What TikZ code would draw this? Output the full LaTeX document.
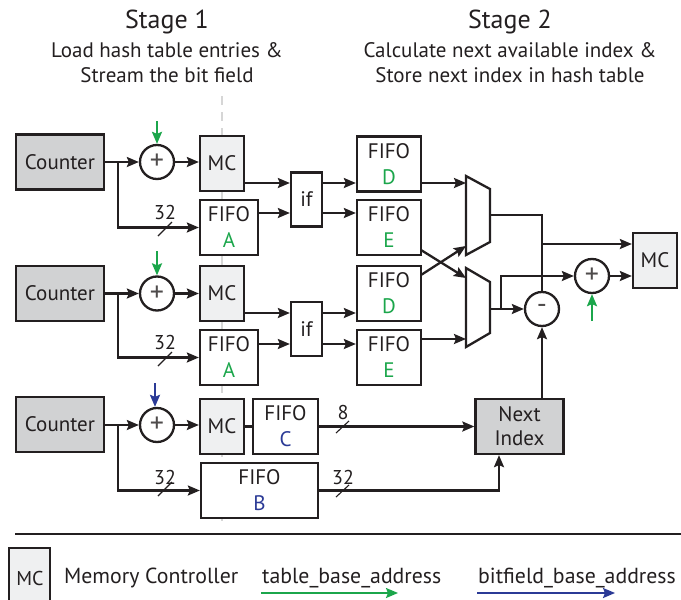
\documentclass[tikz,border=0pt]{standalone}
\usepackage{fontspec}
\setmainfont{PT Sans}
\usetikzlibrary{arrows.meta,calc}
\definecolor{ink}{HTML}{231F20}
\definecolor{tgreen}{HTML}{1BA64B}
\definecolor{tblue}{HTML}{2B3A96}
\definecolor{cntgray}{HTML}{D1D2D3}
\definecolor{mcgray}{HTML}{EFF0F1}
\definecolor{dashgray}{HTML}{D6D6D6}
\newcommand\nodefont{\fontsize{21}{26}\selectfont}
\begin{document}
\begin{tikzpicture}[x=1pt,y=-1pt,line width=2.3pt,color=ink,
  blk/.style={draw=ink,rectangle,inner sep=0pt,fill=white,font=\nodefont,align=center,text=ink},
  cnt/.style={blk,fill=cntgray,minimum width=88pt,minimum height=55pt},
  mcb/.style={blk,fill=mcgray,minimum width=44pt,minimum height=55pt},
  fifo/.style={blk,minimum width=#1,minimum height=55pt},
  ifb/.style={blk,minimum width=31pt,minimum height=54pt},
  op/.style={draw=ink,circle,fill=white,minimum size=34pt,inner sep=0pt,font=\fontsize{28}{28}\selectfont,text=ink!80},
  arr/.style={-{Stealth[length=12pt,width=10pt,inset=2pt]}},
  garr/.style={arr,draw=tgreen},
  barr/.style={arr,draw=tblue},
  slash/.style={line width=1.1pt},
  lbl/.style={font=\fontsize{20}{20}\selectfont,text=ink,inner sep=0pt},
  ttl/.style={font=\fontsize{26}{26}\selectfont,text=ink,inner sep=0pt},
  sub/.style={font=\fontsize{21}{21}\selectfont,text=ink,inner sep=0pt},
  leg/.style={font=\fontsize{21.8}{22}\selectfont,text=ink,inner sep=0pt,anchor=west}]
\useasboundingbox (0,0) rectangle (681,600);

% titles
\node[ttl] (st1) at (167,22) {Stage 1};
\node[sub] (st1a) at (167,50) {Load hash table entries \&};
\node[sub] (st1b) at (167,75) {Stream the bit field};
\node[ttl] (st2) at (510,22) {Stage 2};
\node[sub] (st2a) at (510,50) {Calculate next available index \&};
\node[sub] (st2b) at (510,75) {Store next index in hash table};

% stage divider
\draw[dashgray,line width=2pt,dash pattern=on 9pt off 7pt] (222,96) -- (222,528);

% ---- row 1
\node[cnt] (cnt1) at (60,162) {Counter};
\node[op] (plus1) at (157,162) {+};
\node[mcb] (mc1) at (222,163.5) {MC};
\node[fifo=58pt] (fA1) at (229,227.5) {FIFO\\\textcolor{tgreen}{A}};
\node[ifb] (if1) at (306.5,199.5) {if};
\node[fifo=64pt] (fD1) at (389,164) {FIFO\\\textcolor{tgreen}{D}};
\node[fifo=64pt] (fE1) at (389,227.5) {FIFO\\\textcolor{tgreen}{E}};

% ---- row 2
\node[cnt] (cnt2) at (60,293.5) {Counter};
\node[op] (plus2) at (157,293.5) {+};
\node[mcb] (mc2) at (222,293.5) {MC};
\node[fifo=58pt] (fA2) at (229,357.5) {FIFO\\\textcolor{tgreen}{A}};
\node[ifb] (if2) at (306.5,329) {if};
\node[fifo=64pt] (fD2) at (389,293.5) {FIFO\\\textcolor{tgreen}{D}};
\node[fifo=64pt] (fE2) at (389,357.5) {FIFO\\\textcolor{tgreen}{E}};

% ---- row 3
\node[cnt] (cnt3) at (60,424.5) {Counter};
\node[op] (plus3) at (157,425) {+};
\node[mcb] (mc3) at (222,426.5) {MC};
\node[fifo=65pt] (fC) at (285.5,426.5) {FIFO\\\textcolor{tblue}{C}};
\node[fifo=117pt] (fB) at (259.5,490.5) {FIFO\\\textcolor{tblue}{B}};
\node[cnt] (nxt) at (519.5,426.5) {Next\\[-2pt]Index};

% ---- right part
\node[op] (minus) at (542,309) {-};
\node[op] (plus4) at (592,276) {+};
\node[mcb] (mc4) at (655,260.5) {MC};

% mux shapes
\draw[fill=white,line join=miter] (466,176) -- (490,189) -- (490,242) -- (466,255) -- cycle;
\draw[fill=white,line join=miter] (466,268) -- (490,282) -- (490,333) -- (466,347) -- cycle;
\coordinate (m1i1) at (466,183);
\coordinate (m1i2) at (466,246);
\coordinate (m2i1) at (466,278);
\coordinate (m2i2) at (466,339);
\coordinate (m1o) at (490,215);
\coordinate (m2o) at (490,309);

% row coordinates
\coordinate (ya1) at (0,183);
\coordinate (yb1) at (0,213);
\coordinate (ya2) at (0,313);
\coordinate (yb2) at (0,344);
\coordinate (e1o) at (421,250);
\coordinate (d2o) at (421,275);

% ---- row 1 connectors
\coordinate (br1) at (118,162);
\draw[arr] (cnt1) -- (plus1);
\draw[arr] (br1) |- (fA1.west);
\draw[arr] (plus1) -- (mc1.west |- plus1);
\draw[arr] (mc1.east |- ya1) -- (if1.west |- ya1);
\draw[arr] (fA1.east |- yb1) -- (if1.west |- yb1);
\draw[arr] (if1.east |- ya1) -- (fD1.west |- ya1);
\draw[arr] (if1.east |- yb1) -- (fE1.west |- yb1);
\coordinate (g1) at (157,121);
\draw[garr] (g1) -- (plus1.north);
\draw[slash] (158,236) -- (172,222);
\node[lbl] (l1) at (165,212) {32};

% ---- row 2 connectors
\coordinate (br2) at (118,293.5);
\draw[arr] (cnt2) -- (plus2);
\draw[arr] (br2) |- (fA2.west);
\draw[arr] (plus2) -- (mc2);
\draw[arr] (mc2.east |- ya2) -- (if2.west |- ya2);
\draw[arr] (fA2.east |- yb2) -- (if2.west |- yb2);
\draw[arr] (if2.east |- ya2) -- (fD2.west |- ya2);
\draw[arr] (if2.east |- yb2) -- (fE2.west |- yb2);
\coordinate (g2) at (157,251);
\draw[garr] (g2) -- (plus2.north);
\draw[slash] (158,366) -- (172,352);
\node[lbl] (l2) at (165,342) {32};

% ---- row 3 connectors
\coordinate (br3) at (118,425);
\draw[arr] (cnt3.east |- plus3) -- (plus3);
\draw[arr] (br3) |- (fB.west);
\draw[arr] (plus3) -- (mc3.west |- plus3);
\draw (mc3) -- (fC);
\draw[arr] (fC) -- (nxt);
\coordinate (xb) at (499,0);
\draw[arr] (fB.east) -| (nxt.south -| xb);
\coordinate (b3) at (155,383);
\draw[barr] (b3) -- (plus3.north -| b3);
\draw[slash] (158,496) -- (172,482);
\node[lbl] (l3) at (165,477) {32};
\draw[slash] (336,433) -- (349,421);
\node[lbl] (l4) at (343,412) {8};
\draw[slash] (336,497) -- (349,485);
\node[lbl] (l5) at (343,477) {32};

% ---- stage 2 connectors
\draw[arr] (fD1.east |- m1i1) -- (m1i1);
\draw[arr] (e1o) -- (m2i1);
\draw[arr] (d2o) -- (m1i2);
\draw[arr] (fE2.east |- m2i2) -- (m2i2);
\coordinate (j1) at (542,244);
\coordinate (j2) at (501,309);
\draw (m1o) -| (minus.north);
\draw[arr] (j1) -- (mc4.west |- j1);
\draw[arr] (m2o) -- (minus.west);
\draw[arr] (j2) |- (plus4.west);
\draw[arr] (plus4) -- (mc4.west |- plus4);
\coordinate (g4) at (592,321);
\draw[garr] (g4) -- (plus4.south);
\draw[arr] (nxt.north -| minus) -- (minus.south);

% ---- legend
\coordinate (hl) at (15,534);
\coordinate (hr) at (681,534);
\draw[line width=2.2pt] (hl) -- (hr);
\node[mcb,minimum width=41pt,minimum height=64pt] (legmc) at (29.5,580) {};
\node[lbl] (legmct) at (30,578) {MC};
\node[leg] (legt1) at (63,578) {Memory Controller};
\node[leg] (legt2) at (261,578) {table\_base\_address};
\node[leg] (legt3) at (477,578) {bitfield\_base\_address};
\coordinate (ga) at (261,593);
\coordinate (gb) at (398,593);
\coordinate (ba) at (477,593);
\coordinate (bb) at (615,593);
\draw[garr,line width=2pt] (ga) -- (gb);
\draw[barr,line width=2pt] (ba) -- (bb);
\end{tikzpicture}
\end{document}
